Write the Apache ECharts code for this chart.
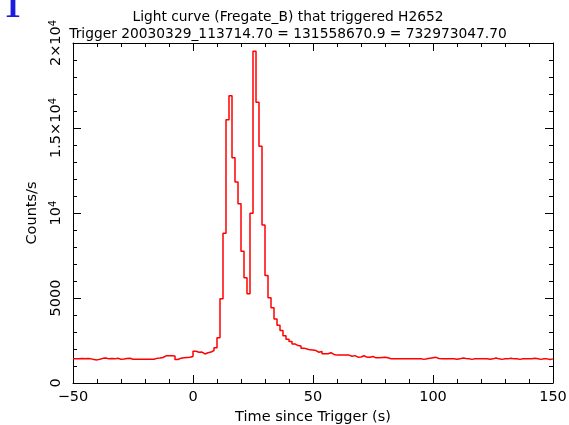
<!DOCTYPE html>
<html>
<head>
<meta charset="utf-8">
<style>
html,body{margin:0;padding:0;background:#fff;}
#chart{width:569px;height:425px;}
</style>
<script src="https://cdn.jsdelivr.net/npm/echarts@6/dist/echarts.min.js"></script>
</head>
<body>
<div id="chart"></div>
<script>
// ---- data ----
const titleLine1 = 'Light curve (Fregate_B) that triggered H2652';
const titleLine2 = 'Trigger 20030329_113714.70 = 131558670.9 = 732973047.70';
const xAxisName = 'Time since Trigger (s)';
const yAxisName = 'Counts/s';
const cornerMark = '1';
const binStart = -50;      // s, start of first bin
const binWidth = 1.25;     // s
const counts = [
  1420,1420,1440,1420,1440,1420,1380,1360,1400,1450,
  1470,1420,1440,1420,1460,1390,1410,1440,1460,1400,
  1400,1400,1400,1400,1400,1400,1400,1450,1470,1500,
  1600,1600,1600,1590,1380,1460,1480,1500,1520,1560,
  1870,1810,1820,1710,1780,1820,1910,2070,2660,4950,
  8810,15480,16890,13250,11830,10540,7750,6190,5250,9990,
  19520,16520,13930,9300,6320,5010,4420,3760,3400,3090,
  2780,2580,2440,2300,2200,2170,2050,2000,1950,1940,
  1910,1810,1850,1720,1720,1780,1680,1640,1640,1640,
  1650,1640,1570,1610,1520,1530,1600,1520,1520,1560,
  1480,1480,1500,1520,1480,1430,1420,1420,1420,1420,
  1420,1420,1420,1420,1420,1420,1390,1420,1450,1480,
  1510,1440,1420,1420,1420,1420,1420,1400,1420,1470,
  1440,1420,1390,1420,1420,1420,1420,1420,1400,1420,
  1470,1420,1390,1420,1420,1460,1420,1420,1390,1420,
  1420,1420,1420,1450,1420,1390,1420,1420,1380,1420
];
const xTickValues = [-50, 0, 50, 100, 150];
const xTickLabels = ['\u221250', '0', '50', '100', '150'];
const yTickValues = [0, 5000, 10000, 15000, 20000];
const yTickLabels = ['0', '5000', '{b|10}{s|4}', '{b|1.5\u00d710}{s|4}', '{b|2\u00d710}{s|4}'];

// ---- build ----
const points = counts.map((v, i) => [binStart + i * binWidth, v]);
points.push([binStart + counts.length * binWidth, counts[counts.length - 1]]);

const FONT = 'DejaVu Sans';
const FS = 14.5;
const TFS = 13.8;
const axisCommon = {
  axisLine: { show: true, onZero: false, lineStyle: { color: '#000', width: 1 } },
  axisTick: { show: true, inside: true, length: 8, lineStyle: { color: '#000', width: 1 } },
  minorTick: { show: true, splitNumber: 5, length: 4, lineStyle: { color: '#000', width: 1 } },
  splitLine: { show: false },
  minorSplitLine: { show: false }
};

const chart = echarts.init(document.getElementById('chart'), null, { renderer: 'canvas' });
chart.setOption({
  animation: false,
  backgroundColor: '#fff',
  title: [
    { text: titleLine1, left: 283, top: 5, textAlign: 'center',
      textStyle: { fontFamily: FONT, fontSize: TFS, fontWeight: 'normal', color: '#000' } },
    { text: titleLine2, left: 283, top: 22, textAlign: 'center',
      textStyle: { fontFamily: FONT, fontSize: TFS, fontWeight: 'normal', color: '#000' } }
  ],
  graphic: [
    { type: 'text', left: 4, top: -9, style: { text: cornerMark, font: 'bold 34px "Liberation Serif"', fill: '#1c1cde' } }
  ],
  grid: { left: 73, right: 16, top: 43, bottom: 42, show: false, containLabel: false, outerBoundsMode: 'none' },
  xAxis: [
    Object.assign({}, axisCommon, {
      type: 'value', position: 'bottom', min: -50, max: 150, interval: 50,
      name: xAxisName, nameLocation: 'middle', nameGap: 24,
      nameTextStyle: { fontFamily: FONT, fontSize: FS, color: '#000' },
      axisLabel: { show: true, margin: 7, fontFamily: FONT, fontSize: FS, color: '#000',
        formatter: v => xTickLabels[xTickValues.indexOf(v)] }
    }),
    Object.assign({}, axisCommon, {
      type: 'value', position: 'top', min: -50, max: 150, interval: 50,
      axisLabel: { show: false }
    })
  ],
  yAxis: [
    Object.assign({}, axisCommon, {
      type: 'value', position: 'left', min: 0, max: 20000, interval: 5000,
      name: yAxisName, nameLocation: 'middle', nameGap: 33, nameRotate: 90,
      nameTextStyle: { fontFamily: FONT, fontSize: FS, color: '#000' },
      axisLabel: { show: true, rotate: 90, margin: 9, fontFamily: FONT, fontSize: FS, color: '#000',
        formatter: v => yTickLabels[yTickValues.indexOf(v)],
        rich: {
          b: { fontFamily: FONT, fontSize: FS, color: '#000', verticalAlign: 'bottom', lineHeight: 16 },
          s: { fontFamily: FONT, fontSize: 10, color: '#000', verticalAlign: 'top', lineHeight: 10 }
        }
      }
    }),
    Object.assign({}, axisCommon, {
      type: 'value', position: 'right', min: 0, max: 20000, interval: 5000,
      axisLabel: { show: false }
    })
  ],
  series: [{
    type: 'line',
    xAxisIndex: 0, yAxisIndex: 0,
    data: points,
    step: 'end',
    showSymbol: false,
    symbol: 'none',
    lineStyle: { color: '#ff0000', width: 1.5 },
    silent: true
  }]
});
</script>
</body>
</html>
